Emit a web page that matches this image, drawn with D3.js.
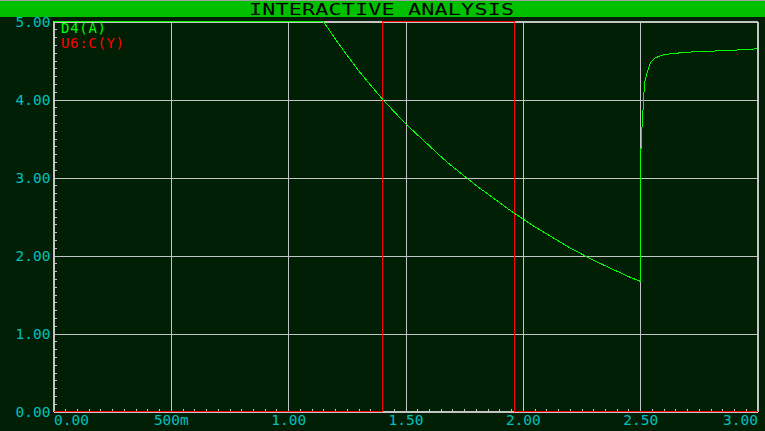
<!DOCTYPE html>
<html>
<head>
<meta charset="utf-8">
<script src="https://cdn.jsdelivr.net/npm/d3@7"></script>
<style>
  html, body { margin: 0; padding: 0; background: #001f04; }
  svg { display: block; }
  text { font-family: "DejaVu Sans Mono", "Liberation Mono", monospace; }
</style>
</head>
<body>
<svg id="chart" width="765" height="431"></svg>
<script>
// ---- data ----
const title = "INTERACTIVE ANALYSIS";
const xTicks = [0, 0.5, 1.0, 1.5, 2.0, 2.5, 3.0];
const xTickLabels = ["0.00", "500m", "1.00", "1.50", "2.00", "2.50", "3.00"];
const yTicks = [0, 1, 2, 3, 4, 5];
const yTickLabels = ["0.00", "1.00", "2.00", "3.00", "4.00", "5.00"];
const traceName = "D4(A)";
const digitalName = "U6:C(Y)";
// D4(A) analog trace
const traceTime = [0.00, 1.15, 1.20, 1.25, 1.30, 1.35, 1.40, 1.45, 1.50, 1.55, 1.60, 1.65, 1.70, 1.75,
  1.80, 1.85, 1.90, 1.95, 2.00, 2.05, 2.10, 2.15, 2.20, 2.25, 2.30, 2.35, 2.40, 2.45, 2.500,
  2.500, 2.507, 2.507, 2.512, 2.516, 2.521, 2.535, 2.544, 2.561, 2.595, 2.638, 2.723, 2.889, 3.00];
const traceValue = [5.00, 5.00, 4.78, 4.57, 4.37, 4.19, 4.01, 3.85, 3.69, 3.55, 3.41, 3.27, 3.14, 3.02,
  2.90, 2.79, 2.68, 2.57, 2.47, 2.37, 2.28, 2.19, 2.10, 2.02, 1.94, 1.87, 1.80, 1.73, 1.67,
  3.37, 3.37, 3.60, 3.86, 4.08, 4.25, 4.40, 4.47, 4.53, 4.57, 4.59, 4.61, 4.63, 4.65];
// U6:C(Y) digital trace (low = 0, high = 5)
const digitalTime = [0.00, 1.402, 1.402, 1.964, 1.964, 3.00];
const digitalValue = [0, 0, 5, 5, 0, 0];

(function () {
// ---- layout ----
const W = 765, H = 431;
const pL = 53.5, pR = 757.5, pT = 21.5, pB = 411.5;
const svg = d3.select("#chart");
const bg = "#001f04", grid = "#c4c4c4", cyan = "#00c0c0", green = "#00ff00", red = "#ff0000";

svg.append("rect").attr("width", W).attr("height", H).attr("fill", bg);
// title bar
svg.append("rect").attr("x", 0).attr("y", 0).attr("width", W).attr("height", 1).attr("fill", "#a0a0a0");
svg.append("rect").attr("x", 0).attr("y", 1).attr("width", W).attr("height", 16).attr("fill", "#00c000");
const sx = 1.45;
svg.append("text").attr("transform", `translate(249,15) scale(${sx},1)`).attr("fill", "#000")
  .attr("font-size", 15).attr("textLength", 265 / sx).attr("lengthAdjust", "spacing")
  .text(title);

const x = d3.scaleLinear().domain([0, 3]).range([pL, pR]);
const y = d3.scaleLinear().domain([0, 5]).range([pB, pT]);

// grid lines
const gGrid = svg.append("g").attr("shape-rendering", "crispEdges");
gGrid.append("g").attr("transform", `translate(0,${pB})`)
  .call(d3.axisBottom(x).tickValues(xTicks).tickSize(-(pB - pT)).tickFormat(""))
  .call(g => g.select(".domain").remove())
  .call(g => g.selectAll("line").attr("stroke", grid));
gGrid.append("g").attr("transform", `translate(${pL},0)`)
  .call(d3.axisLeft(y).tickValues(yTicks).tickSize(-(pR - pL)).tickFormat(""))
  .call(g => g.select(".domain").remove())
  .call(g => g.selectAll("line").attr("stroke", grid));

// frame
svg.append("rect").attr("x", pL).attr("y", pT).attr("width", pR - pL).attr("height", pB - pT)
  .attr("fill", "none").attr("stroke", grid).attr("shape-rendering", "crispEdges");

// minor ticks (inward)
const yMinor = d3.range(0, 50).map(i => i / 10);
svg.append("g").attr("transform", `translate(${pL},0)`).attr("shape-rendering", "crispEdges")
  .call(d3.axisRight(y).tickValues(yMinor).tickSize(3).tickFormat(""))
  .call(g => g.select(".domain").remove())
  .call(g => g.selectAll("line").attr("stroke", grid));
const xMinor = d3.range(1, 60).map(i => i / 20);
svg.append("g").attr("transform", `translate(0,${pB})`).attr("shape-rendering", "crispEdges")
  .call(d3.axisTop(x).tickValues(xMinor).tickSize(3).tickFormat(""))
  .call(g => g.select(".domain").remove())
  .call(g => g.selectAll("line").attr("stroke", grid));

// tick labels
svg.append("g").attr("transform", `translate(${pL},0)`)
  .call(d3.axisLeft(y).tickValues(yTicks).tickSize(0).tickPadding(3)
    .tickFormat((d, i) => yTickLabels[i]))
  .call(g => g.select(".domain").remove())
  .call(g => g.selectAll("text").attr("fill", cyan).attr("font-size", 14.5)
    .attr("font-family", "DejaVu Sans Mono, monospace").attr("dy", "0.36em"));
svg.append("g").attr("transform", `translate(0,${pB})`)
  .call(d3.axisBottom(x).tickValues(xTicks).tickSize(0).tickPadding(3)
    .tickFormat((d, i) => xTickLabels[i]))
  .call(g => g.select(".domain").remove())
  .call(g => g.selectAll("text").attr("fill", cyan).attr("font-size", 14.5)
    .attr("font-family", "DejaVu Sans Mono, monospace")
    .attr("text-anchor", (d, i) => i === 0 ? "start" : (i === xTicks.length - 1 ? "end" : "middle")));

const line = d3.line().x(d => x(d[0])).y(d => y(d[1]));

// digital trace U6:C(Y)
const dpts = digitalTime.map((t, i) => [t, digitalValue[i]]);
svg.append("path").datum(dpts)
  .attr("fill", "none").attr("stroke", red).attr("stroke-width", 1)
  .attr("shape-rendering", "crispEdges").attr("d", line);

// analog trace D4(A)
const pts = traceTime.map((t, i) => [t, traceValue[i]]);
svg.append("path").datum(pts)
  .attr("fill", "none").attr("stroke", green).attr("stroke-width", 1)
  .attr("shape-rendering", "crispEdges").attr("d", line);

// legend
svg.append("text").attr("x", 61).attr("y", 33).attr("fill", green).attr("font-size", 14)
  .attr("textLength", 45).attr("lengthAdjust", "spacing").text(traceName);
svg.append("text").attr("x", 61).attr("y", 48).attr("fill", red).attr("font-size", 14)
  .attr("textLength", 63).attr("lengthAdjust", "spacing").text(digitalName);
})();
</script>
</body>
</html>
